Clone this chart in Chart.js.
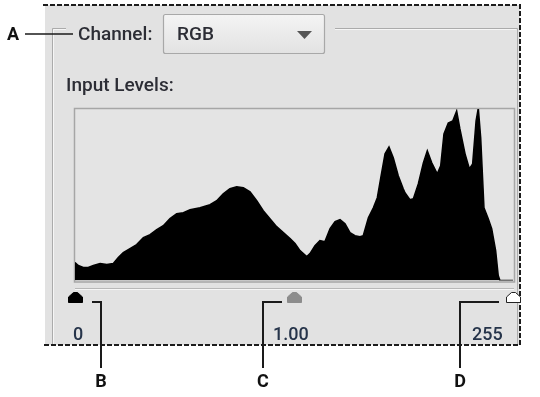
<!DOCTYPE html>
<html><head><meta charset="utf-8">
<script src="https://cdn.jsdelivr.net/npm/chart.js@4.4.1/dist/chart.umd.min.js"></script>
<style>
html,body{margin:0;padding:0;background:#fff;width:540px;height:397px;overflow:hidden;}
#wrap{position:relative;width:540px;height:397px;}
canvas{position:absolute;left:0;top:0;}
.t{position:absolute;white-space:nowrap;font-family:Roboto,"Open Sans",sans-serif;line-height:1;}
.ui{font-size:19px;color:#2c2d35;font-weight:500;}
.num{font-size:18px;color:#26344a;font-weight:500;}
.lab{font-family:"Liberation Sans Narrow",Roboto,sans-serif;font-weight:bold;font-size:18px;color:#111;width:20px;text-align:center;}
</style></head>
<body><div id="wrap"><canvas id="c" width="540" height="397"></canvas>
<div class="t lab" style="left:3px;top:25px;">A</div>
<div class="t ui" style="left:78px;top:24px;">Channel:</div>
<div class="t ui" style="left:177px;top:24px;">RGB</div>
<div class="t ui" style="left:66px;top:75px;">Input Levels:</div>
<div class="t num" style="left:73px;top:325px;">0</div>
<div class="t num" style="left:273px;top:325px;">1.00</div>
<div class="t num" style="left:472px;top:325px;">255</div>
<div class="t lab" style="left:91px;top:372px;">B</div>
<div class="t lab" style="left:253px;top:372px;">C</div>
<div class="t lab" style="left:450px;top:372px;">D</div>
</div>
<script>
// Histogram: tonal level (0-255) and relative pixel count
const levels = [0,1.9,4.8,7.7,10.7,14.6,18.5,22.3,25.2,28.1,32.0,35.9,39.8,43.7,47.6,51.4,55.3,59.2,63.1,67.0,
  72.8,78.6,82.5,86.3,90.2,94.1,98.0,101.9,105.8,109.6,113.5,117.4,121.3,125.2,128.1,131.0,134.9,136.8,139.7,142.6,
  145.5,148.5,151.4,154.3,157.2,160.1,163.0,165.9,167.8,170.8,173.7,176.0,178.0,180.5,182.8,185.3,188.2,191.1,192.1,195.0,
  197.0,199.9,202.8,205.1,207.7,210.9,212.9,214.8,217.3,219.9,222.2,224.1,227.1,229.6,231.5,233.5,234.8,236.2,238.1,240.6,
  242.6,244.9,246.4,247.4,255];
const counts = [18,15,13,13,15,17,16,17,23,28,32,36,43,46,51,55,62,67,68,71,
  73,76,80,87,92,94,93,89,80,70,62,54,48,42,37,30,24,27,35,40,
  39,52,59,61,57,48,45,44,45,63,73,83,103,127,134,123,105,92,88,81,
  82,97,118,130,118,107,115,147,158,160,170,152,127,112,117,160,173,143,73,62,
  52,30,5,0,0];
// Slider handles: black point, gamma (midtone), white point
const sliderLevels = [0, 127.5, 255];
const sliderFills = ['#000000', '#8c8c8c', '#ffffff'];
const sliderLabels = ['0', '1.00', '255'];

const pts = levels.map((l, i) => ({x: l, y: counts[i]}));

const chrome = {
  id: 'chrome',
  beforeDraw(chart) {
    const c = chart.ctx;
    c.save();
    c.fillStyle = '#ffffff'; c.fillRect(0, 0, 540, 397);
    c.fillStyle = '#e2e2e2'; c.fillRect(45, 5, 475, 340);
    const etch = (p, col) => { c.strokeStyle = col; c.lineWidth = 1; c.beginPath(); c.moveTo(p[0][0], p[0][1]); for (let i = 1; i < p.length; i++) c.lineTo(p[i][0], p[i][1]); c.stroke(); };
    etch([[66, 28.5], [52.5, 28.5], [52.5, 345]], '#ababab');
    etch([[66, 29.5], [53.5, 29.5], [53.5, 345]], '#f6f6f6');
    etch([[335, 28.5], [517.5, 28.5], [517.5, 345]], '#ababab');
    etch([[335, 29.5], [516.5, 29.5]], '#f6f6f6');
    const g = c.createLinearGradient(0, 14, 0, 54);
    g.addColorStop(0, '#f4f4f4'); g.addColorStop(1, '#e2e2e2');
    c.fillStyle = g; c.strokeStyle = '#a8a8a8'; c.lineWidth = 1.2;
    c.beginPath(); c.roundRect(163.5, 14.5, 161, 39, 2); c.fill(); c.stroke();
    c.fillStyle = '#555'; c.beginPath(); c.moveTo(297, 31); c.lineTo(312, 31); c.lineTo(304.5, 39); c.closePath(); c.fill();
    c.fillStyle = '#e4e4e4'; c.fillRect(74, 108, 441, 174);
    c.strokeStyle = '#a6a6a6'; c.lineWidth = 1.5; c.strokeRect(74.5, 108.5, 440, 173.5);
    c.restore();
  },
  afterDraw(chart) {
    const c = chart.ctx, xs = chart.scales.x;
    c.save();
    c.strokeStyle = '#1c1c1c'; c.lineWidth = 2; c.setLineDash([5, 2]);
    c.beginPath(); c.moveTo(43, 5); c.lineTo(520, 5); c.lineTo(520, 345); c.lineTo(44, 345); c.stroke();
    c.setLineDash([]);
    c.lineWidth = 1;
    c.strokeStyle = '#b8b8b8'; c.beginPath(); c.moveTo(75, 288.5); c.lineTo(514, 288.5); c.stroke();
    c.strokeStyle = '#f7f7f7'; c.beginPath(); c.moveTo(75, 289.5); c.lineTo(514, 289.5); c.stroke();
    sliderLevels.forEach((lv, i) => {
      const cx = Math.round(xs.getPixelForValue(lv)) + 0.5;
      c.beginPath();
      c.moveTo(cx - 2, 292.5); c.lineTo(cx + 2, 292.5); c.lineTo(cx + 7, 297); c.lineTo(cx + 7, 302.5); c.lineTo(cx - 7, 302.5); c.lineTo(cx - 7, 297); c.closePath();
      c.fillStyle = sliderFills[i]; c.fill();
      c.strokeStyle = i === 2 ? '#222' : sliderFills[i]; c.lineWidth = 1; c.stroke();
    });
    c.strokeStyle = '#1a1a1a'; c.lineWidth = 2;
    const poly = (p) => { c.beginPath(); c.moveTo(p[0][0], p[0][1]); for (let i = 1; i < p.length; i++) c.lineTo(p[i][0], p[i][1]); c.stroke(); };
    poly([[92, 302], [101, 302], [101, 368]]);
    poly([[282, 302], [263, 302], [263, 368]]);
    poly([[499, 302], [460, 302], [460, 368]]);
    c.lineWidth = 1.5;
    poly([[25, 34], [73, 34]]);
    c.restore();
  }
};

new Chart(document.getElementById('c'), {
  type: 'line',
  data: { datasets: [{ data: pts, fill: 'origin', backgroundColor: '#000', borderColor: '#000', borderWidth: 1.5, pointRadius: 0, tension: 0 }] },
  options: {
    responsive: false, animation: false, devicePixelRatio: 1,
    layout: { padding: { left: 75, right: 27, top: 109, bottom: 116.5 } },
    plugins: { legend: { display: false }, tooltip: { enabled: false } },
    scales: {
      x: { type: 'linear', min: 0, max: 255, display: false },
      y: { min: 0, max: 172, display: false }
    }
  },
  plugins: [chrome]
});
</script>
</body></html>
